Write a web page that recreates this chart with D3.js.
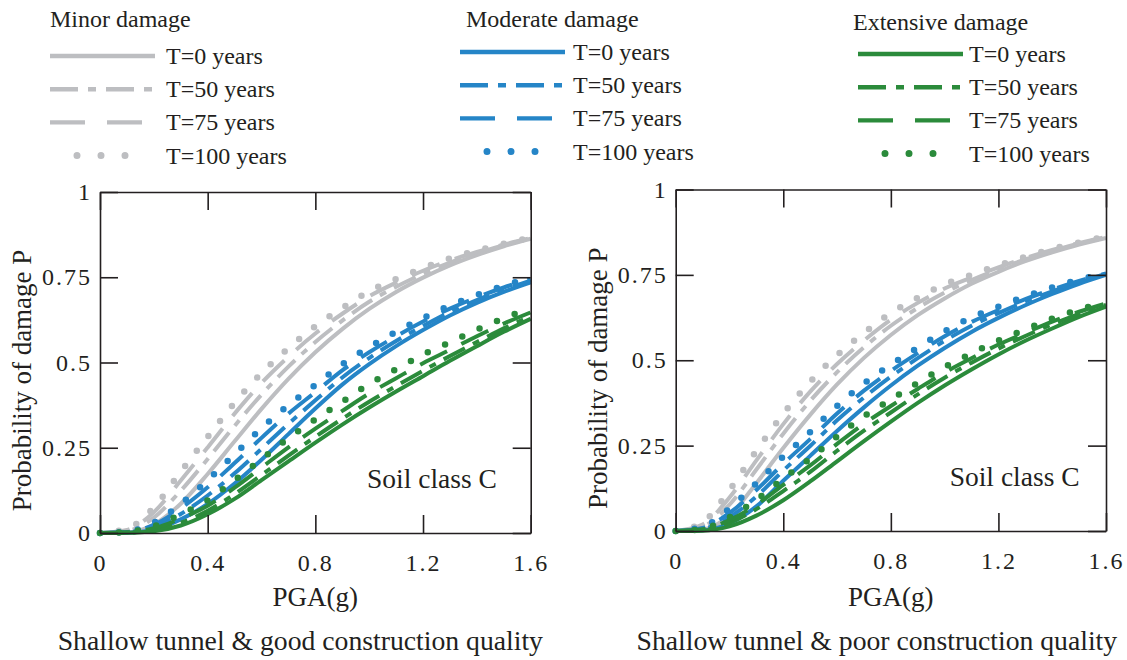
<!DOCTYPE html>
<html>
<head>
<meta charset="utf-8">
<script src="https://cdn.jsdelivr.net/npm/d3@7"></script>
<style>
  body { margin: 0; background: #fff; }
  svg text { font-family: "Liberation Serif", "Times New Roman", serif; fill: #231f20; }
</style>
</head>
<body>
<svg id="chart" width="1127" height="660"></svg>
<script>
// PGA grid (g) shared by every fragility curve
const pga = [0, 0.1, 0.2, 0.3, 0.4, 0.5, 0.6, 0.7, 0.8, 0.9, 1.0, 1.1, 1.2, 1.3, 1.4, 1.5, 1.6];

const periods = ["T=0 years", "T=50 years", "T=75 years", "T=100 years"];
const damageStates = ["Minor damage", "Moderate damage", "Extensive damage"];
const panelTitles = ["Shallow tunnel & good construction quality", "Shallow tunnel & poor construction quality"];
const xTicks = [0, 0.4, 0.8, 1.2, 1.6];
const yTicks = [0, 0.25, 0.5, 0.75, 1];
const yTickLabels = ["0", "0.25", "0.5", "0.75", "1"];
const xTickLabels = ["0", "0.4", "0.8", "1.2", "1.6"];

// Shallow tunnel, good construction quality
const goodMinorT0    = [0, 0.0014, 0.025, 0.086, 0.173, 0.269, 0.364, 0.452, 0.530, 0.598, 0.657, 0.707, 0.749, 0.785, 0.815, 0.841, 0.863];
const goodMinorT50   = [0, 0.006, 0.045, 0.124, 0.217, 0.314, 0.406, 0.488, 0.560, 0.623, 0.678, 0.722, 0.760, 0.793, 0.820, 0.844, 0.864];
const goodMinorT75   = [0, 0.009, 0.061, 0.154, 0.251, 0.350, 0.440, 0.517, 0.585, 0.643, 0.694, 0.734, 0.769, 0.799, 0.824, 0.846, 0.865];
const goodMinorT100  = [0, 0.012, 0.075, 0.180, 0.282, 0.382, 0.469, 0.542, 0.606, 0.660, 0.709, 0.745, 0.777, 0.805, 0.828, 0.848, 0.866];

const goodModT0      = [0, 0.001, 0.010, 0.040, 0.085, 0.145, 0.215, 0.290, 0.365, 0.435, 0.495, 0.548, 0.595, 0.638, 0.675, 0.707, 0.735];
const goodModT50     = [0, 0.002, 0.017, 0.056, 0.110, 0.175, 0.247, 0.320, 0.389, 0.456, 0.513, 0.563, 0.607, 0.648, 0.683, 0.713, 0.740];
const goodModT75     = [0, 0.003, 0.024, 0.072, 0.134, 0.205, 0.279, 0.350, 0.413, 0.477, 0.530, 0.577, 0.620, 0.658, 0.691, 0.720, 0.744];
const goodModT100    = [0, 0.004, 0.030, 0.085, 0.155, 0.231, 0.307, 0.375, 0.434, 0.495, 0.545, 0.590, 0.630, 0.667, 0.698, 0.725, 0.748];

const goodExtT0      = [0, 0.0005, 0.005, 0.022, 0.055, 0.100, 0.155, 0.210, 0.265, 0.318, 0.368, 0.415, 0.460, 0.505, 0.548, 0.590, 0.628];
const goodExtT50     = [0, 0.001, 0.009, 0.030, 0.065, 0.114, 0.170, 0.227, 0.282, 0.335, 0.385, 0.431, 0.476, 0.519, 0.560, 0.600, 0.636];
const goodExtT75     = [0, 0.002, 0.014, 0.042, 0.080, 0.133, 0.192, 0.251, 0.306, 0.358, 0.409, 0.454, 0.498, 0.537, 0.577, 0.614, 0.647];
const goodExtT100    = [0, 0.003, 0.020, 0.055, 0.096, 0.155, 0.216, 0.278, 0.333, 0.385, 0.437, 0.480, 0.523, 0.559, 0.596, 0.630, 0.660];

// Shallow tunnel, poor construction quality
const poorMinorT0    = [0, 0.004, 0.045, 0.140, 0.243, 0.340, 0.429, 0.507, 0.574, 0.632, 0.681, 0.724, 0.759, 0.790, 0.816, 0.839, 0.858];
const poorMinorT50   = [0, 0.013, 0.077, 0.180, 0.285, 0.381, 0.465, 0.538, 0.601, 0.653, 0.698, 0.735, 0.767, 0.795, 0.820, 0.842, 0.860];
const poorMinorT75   = [0, 0.019, 0.098, 0.207, 0.313, 0.408, 0.489, 0.558, 0.619, 0.668, 0.710, 0.742, 0.772, 0.799, 0.823, 0.843, 0.861];
const poorMinorT100  = [0, 0.025, 0.120, 0.235, 0.343, 0.437, 0.515, 0.580, 0.638, 0.683, 0.722, 0.750, 0.778, 0.803, 0.826, 0.845, 0.862];

const poorModT0      = [0, 0.002, 0.022, 0.072, 0.147, 0.220, 0.293, 0.362, 0.426, 0.484, 0.536, 0.583, 0.624, 0.661, 0.694, 0.724, 0.750];
const poorModT50     = [0, 0.006, 0.040, 0.101, 0.177, 0.249, 0.324, 0.391, 0.452, 0.506, 0.557, 0.601, 0.638, 0.672, 0.702, 0.729, 0.753];
const poorModT75     = [0, 0.009, 0.053, 0.120, 0.197, 0.269, 0.344, 0.411, 0.469, 0.521, 0.570, 0.612, 0.647, 0.679, 0.707, 0.732, 0.754];
const poorModT100    = [0, 0.012, 0.066, 0.140, 0.218, 0.290, 0.366, 0.432, 0.487, 0.537, 0.585, 0.625, 0.657, 0.687, 0.713, 0.736, 0.756];

const poorExtT0      = [0, 0.001, 0.0136, 0.045, 0.090, 0.145, 0.204, 0.263, 0.320, 0.375, 0.426, 0.473, 0.517, 0.557, 0.593, 0.627, 0.657];
const poorExtT50     = [0, 0.003, 0.024, 0.064, 0.117, 0.173, 0.235, 0.294, 0.347, 0.400, 0.449, 0.493, 0.534, 0.571, 0.605, 0.636, 0.662];
const poorExtT75     = [0, 0.005, 0.032, 0.077, 0.135, 0.192, 0.255, 0.314, 0.366, 0.416, 0.464, 0.506, 0.546, 0.580, 0.613, 0.642, 0.666];
const poorExtT100    = [0, 0.006, 0.040, 0.091, 0.154, 0.212, 0.277, 0.336, 0.385, 0.434, 0.480, 0.520, 0.558, 0.590, 0.622, 0.648, 0.670];

const stateColors = ["#bdbec1", "#2585c7", "#2b8b3b"];

// stroke style per return period (plot area)
const plotStyles = [
  { width: 4,   dash: null,          cap: "butt" },
  { width: 4,   dash: "24,9,7,9",    cap: "butt" },
  { width: 4,   dash: "30,16",       cap: "butt" },
  { width: 6.5, dash: "0,19",        cap: "round" }
];
// stroke style per return period (legend)
const legendStyles = [
  { width: 4.4, dash: null,          cap: "butt" },
  { width: 4.4, dash: "28,10,8,10",  cap: "butt" },
  { width: 4.4, dash: "35,22",       cap: "butt" },
  { width: 7,   dash: "0,24",        cap: "round" }
];

const panels = [
  { x0: 100,   x1: 530.7, yTop: 192,   yBottom: 533, soilX: 267, titleShift: -15,
    series: [[goodMinorT0, goodMinorT50, goodMinorT75, goodMinorT100],
             [goodModT0, goodModT50, goodModT75, goodModT100],
             [goodExtT0, goodExtT50, goodExtT75, goodExtT100]] },
  { x0: 675.7, x1: 1106,  yTop: 189.5, yBottom: 531, soilX: 274, titleShift: -14,
    series: [[poorMinorT0, poorMinorT50, poorMinorT75, poorMinorT100],
             [poorModT0, poorModT50, poorModT75, poorModT100],
             [poorExtT0, poorExtT50, poorExtT75, poorExtT100]] }
];

const svg = d3.select("#chart");
svg.append("rect").attr("width", 1127).attr("height", 660).attr("fill", "#fff");

panels.forEach((p, pi) => {
  const x = d3.scaleLinear().domain([0, 1.6]).range([p.x0, p.x1]);
  const y = d3.scaleLinear().domain([0, 1]).range([p.yBottom, p.yTop]);
  const g = svg.append("g");

  // curves: gray first, then blue, then green on top
  const line = d3.line().x(d => x(d[0])).y(d => y(d[1])).curve(d3.curveMonotoneX);
  p.series.forEach((group, si) => {
    group.forEach((vals, ti) => {
      const st = plotStyles[ti];
      g.append("path")
        .datum(pga.map((v, i) => [v, vals[i]]))
        .attr("d", line)
        .attr("fill", "none")
        .attr("stroke", stateColors[si])
        .attr("stroke-width", st.width)
        .attr("stroke-linecap", st.cap)
        .attr("stroke-dasharray", st.dash);
    });
  });

  // axes with inward ticks on all four sides
  const styleAxis = sel => {
    sel.selectAll("path.domain").attr("stroke", "#231f20").attr("stroke-width", 1.6);
    sel.selectAll(".tick line").attr("stroke", "#231f20").attr("stroke-width", 1.6);
    sel.selectAll(".tick text")
      .style("font-family", '"Liberation Serif", "Times New Roman", serif')
      .style("font-size", "24px").style("letter-spacing", "2px").attr("fill", "#231f20");
  };
  g.append("g").attr("transform", `translate(0,${p.yBottom})`)
    .call(d3.axisBottom(x).tickValues(xTicks).tickSize(-18).tickSizeOuter(0).tickPadding(21)
      .tickFormat((d, i) => xTickLabels[i]))
    .call(styleAxis);
  g.append("g").attr("transform", `translate(0,${p.yTop})`)
    .call(d3.axisTop(x).tickValues(xTicks).tickSize(-18).tickSizeOuter(0).tickFormat(""))
    .call(styleAxis);
  g.append("g").attr("transform", `translate(${p.x0},0)`)
    .call(d3.axisLeft(y).tickValues(yTicks).tickSize(-18).tickSizeOuter(0).tickPadding(8)
      .tickFormat((d, i) => yTickLabels[i]))
    .call(styleAxis);
  g.append("g").attr("transform", `translate(${p.x1},0)`)
    .call(d3.axisRight(y).tickValues(yTicks).tickSize(-18).tickSizeOuter(0).tickFormat(""))
    .call(styleAxis);

  const cx = (p.x0 + p.x1) / 2;
  g.append("text").attr("x", cx).attr("y", 606).attr("text-anchor", "middle")
    .style("font-size", "27px").text("PGA(g)");
  g.append("text")
    .attr("transform", `translate(${p.x0 - 69},${(p.yTop + p.yBottom) / 2 + 18}) rotate(-90)`)
    .attr("text-anchor", "middle").style("font-size", "27px").text("Probability of damage P");
  g.append("text").attr("x", p.x0 + p.soilX).attr("y", p.yBottom - 45)
    .style("font-size", "27.5px").text("Soil class C");
  g.append("text").attr("x", cx + p.titleShift).attr("y", 650).attr("text-anchor", "middle")
    .style("font-size", "27.7px").text(panelTitles[pi]);
});

// legend: one column per damage state
const legendCols = [
  { titleX: 50,  titleY: 27, lineX: 50,  textX: 166, rowY: 56 },
  { titleX: 466, titleY: 27, lineX: 460, textX: 573, rowY: 52 },
  { titleX: 853, titleY: 30, lineX: 858, textX: 969, rowY: 54 }
];
const rowGap = 33.2;
const leg = svg.append("g");
damageStates.forEach((name, si) => {
  const c = legendCols[si];
  leg.append("text").attr("x", c.titleX).attr("y", c.titleY).style("font-size", "24px").text(name);
  periods.forEach((lab, ti) => {
    const yy = c.rowY + ti * rowGap;
    const st = legendStyles[ti];
    const xs = ti === 3 ? c.lineX + 27 : c.lineX;
    const xe = ti === 3 ? c.lineX + 80 : c.lineX + 105;
    leg.append("line").attr("x1", xs).attr("x2", xe).attr("y1", yy).attr("y2", yy)
      .attr("stroke", stateColors[si]).attr("stroke-width", st.width)
      .attr("stroke-linecap", st.cap).attr("stroke-dasharray", st.dash);
    leg.append("text").attr("x", c.textX).attr("y", yy + 8).style("font-size", "24px").text(lab);
  });
});
</script>
</body>
</html>
